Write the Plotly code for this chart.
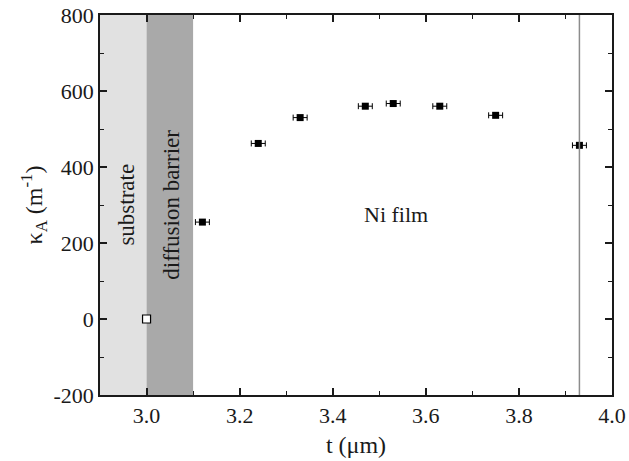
import plotly.graph_objects as go

t_vals = [3.12, 3.24, 3.33, 3.47, 3.53, 3.63, 3.75, 3.93]
kappa_vals = [255, 462, 530, 560, 567, 560, 536, 457]
t_err = [0.015] * len(t_vals)
open_t = [3.0]
open_kappa = [0]
vline_t = 3.93
regions = [(2.9, 3.0, "#e1e1e1", "substrate"), (3.0, 3.1, "#a9a9a9", "diffusion barrier")]
y_ticks = [-200, 0, 200, 400, 600, 800]
y_ticktext = ["-200", "0", "200", "400", "600", "800"]

font = "Liberation Serif"
fig = go.Figure()
for x0, x1, col, lab in regions:
    fig.add_vrect(x0=x0, x1=x1, fillcolor=col, line_width=0, layer="below")
fig.add_vline(x=vline_t, line_color="#8c8c8c", line_width=1.5)

fig.add_trace(go.Scatter(x=t_vals, y=kappa_vals, mode="markers",
                         marker=dict(symbol="square", size=7, color="black"),
                         error_x=dict(type="data", array=t_err, color="black", thickness=1, width=3),
                         showlegend=False))
fig.add_trace(go.Scatter(x=open_t, y=open_kappa, mode="markers",
                         marker=dict(symbol="square", size=8, color="white", line=dict(color="black", width=1.2)),
                         showlegend=False))

fig.add_annotation(x=2.955, y=300, text="substrate", textangle=-90, showarrow=False,
                   font=dict(family=font, size=23, color="#1a1a1a"))
fig.add_annotation(x=3.052, y=300, text="diffusion barrier", textangle=-90, showarrow=False,
                   font=dict(family=font, size=23, color="#1a1a1a"))
fig.add_annotation(x=3.535, y=274, text="Ni film", showarrow=False,
                   font=dict(family=font, size=22, color="#1a1a1a"))

axis_common = dict(showline=True, linecolor="#1a1a1a", linewidth=1.5, mirror="ticks",
                   ticks="inside", ticklen=7, tickwidth=1.5, tickcolor="#1a1a1a",
                   showgrid=False, zeroline=False, automargin=False,
                   tickfont=dict(family=font, size=22, color="#1a1a1a"))
fig.update_xaxes(range=[2.9, 4.0], dtick=0.2, tick0=3.0, tickformat=".1f",
                 minor=dict(dtick=0.1, ticks="inside", ticklen=4, tickwidth=1.2, tickcolor="#1a1a1a"),
                 title=dict(text="t (μm)", font=dict(family=font, size=24, color="#1a1a1a"), standoff=9),
                 **axis_common)
fig.update_yaxes(range=[-200, 800], tickvals=y_ticks, ticktext=y_ticktext,
                 minor=dict(dtick=100, ticks="inside", ticklen=4, tickwidth=1.2, tickcolor="#1a1a1a"),
                 title=dict(text="κ<sub>A</sub> (m<sup>-1</sup>)", font=dict(family=font, size=24, color="#1a1a1a"), standoff=4),
                 **axis_common)
fig.update_layout(width=629, height=461, margin=dict(l=100, r=17, t=15, b=66),
                  plot_bgcolor="white", paper_bgcolor="white")
fig.write_html("out.html")
